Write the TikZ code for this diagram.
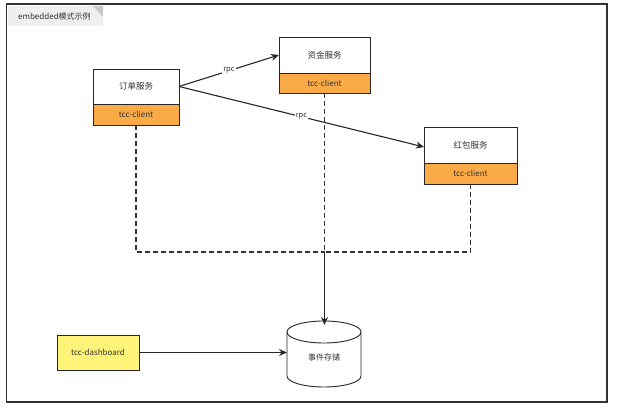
\documentclass[tikz,border=0pt]{standalone}
\usepackage{fontspec}
\setmainfont{Noto Sans CJK SC}
\usetikzlibrary{arrows.meta}
\definecolor{tccorange}{HTML}{FAAB48}
\definecolor{dashyellow}{HTML}{FFF37A}
\definecolor{tabgrey}{HTML}{EFEFEF}
\definecolor{folddark}{HTML}{C8C8C8}
\definecolor{txt}{HTML}{333333}
\tikzset{
  svcbox/.style={draw=black!85, line width=0.9pt, fill=white, minimum width=#1, inner sep=0pt, outer sep=0pt, font=\fontsize{8.5}{10}\selectfont, text=txt},
  clientbox/.style={draw=black!85, line width=0.9pt, fill=tccorange, minimum width=#1, inner sep=0pt, outer sep=0pt, font=\fontsize{8}{10}\selectfont, text=txt},
  dashbox/.style={draw=black!85, line width=0.9pt, fill=dashyellow, minimum width=82pt, minimum height=35pt, inner sep=0pt, outer sep=0pt, font=\fontsize{8}{10}\selectfont, text=txt},
  conn/.style={draw=black!85, line width=1.1pt, -{Stealth[length=8pt,width=7pt]}},
  dashconn/.style={draw=black!80, line width=1.1pt, dash pattern=on 5pt off 3pt},
  rpclabel/.style={fill=white, inner sep=1pt, font=\fontsize{7.5}{8}\selectfont, text=txt}
}
\begin{document}
\begin{tikzpicture}[x=1pt,y=1pt]
\useasboundingbox (0,0) rectangle (623,414);
% outer frame
\draw[line width=1.4pt, draw=black!80] (6.5,410) rectangle (607,12);
% title tab
\fill[tabgrey] (8,408) -- (93,408) -- (103,397) -- (103,388) -- (8,388) -- cycle;
\fill[folddark] (93,408) -- (103,397) -- (103,408) -- cycle;
\node[anchor=west, font=\fontsize{8}{10}\selectfont, text=txt, inner sep=0pt] (title) at (18,398) {embedded模式示例};

% services
\node[svcbox=86pt, minimum height=35pt] (order) at (136,327.5) {订单服务};
\node[clientbox=86pt, minimum height=21pt] (orderc) at (136,299.5) {tcc-client};
\node[svcbox=91pt, minimum height=36pt] (fund) at (324.5,359) {资金服务};
\node[clientbox=91pt, minimum height=20pt] (fundc) at (324.5,331) {tcc-client};
\node[svcbox=93pt, minimum height=36pt] (red) at (470.5,269) {红包服务};
\node[clientbox=93pt, minimum height=21pt] (redc) at (470.5,240.5) {tcc-client};

% dashboard
\node[dashbox] (dash) at (98,61.5) {tcc-dashboard};

% storage cylinder (shape first, then the named text node)
\draw[line width=0.9pt, draw=black!85, fill=white] (287,82) -- (287,38) arc[start angle=180, end angle=360, x radius=37pt, y radius=11pt] -- (361,82);
\draw[line width=0.9pt, draw=black!85, fill=white] (324,82) ellipse [x radius=37pt, y radius=11pt];
\node[minimum width=74pt, minimum height=66pt, inner sep=0pt, outer sep=0pt, font=\fontsize{8}{10}\selectfont, text=txt] (store) at (324,57) {事件存储};

% rpc connectors
\draw[conn] (order.east) -- node[rpclabel, pos=0.5] {rpc} (fund.west);
\draw[conn] (order.east) -- node[rpclabel, pos=0.5] {rpc} ([yshift=-2pt]red.west);

% dashed joins
\coordinate (junc) at (fundc.south |- 0,162);
\draw[dashconn] (orderc.south) -- (orderc.south |- junc) -- (junc);
\draw[dashconn] (redc.south) -- (redc.south |- junc) -- (junc);
\draw[dashconn] (fundc.south) -- (junc);
\coordinate (storetop) at (fundc.south |- store.north);
\draw[conn] (junc) -- ([yshift=-1pt]storetop);

% dashboard to storage
\draw[conn] (dash.east) -- (dash.east -| store.west);
\end{tikzpicture}
\end{document}
